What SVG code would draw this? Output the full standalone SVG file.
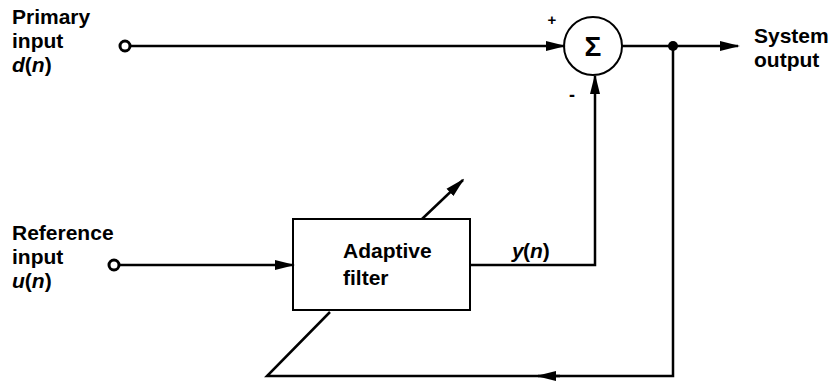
<svg xmlns="http://www.w3.org/2000/svg" width="837" height="382" viewBox="0 0 837 382">
<style>
text{font-family:"Liberation Sans",Arial,sans-serif;font-size:21px;font-weight:bold;fill:#000}
.it{font-style:italic}
.ln{fill:none;stroke:#000;stroke-width:2.5}
.term{fill:#fff;stroke:#000;stroke-width:3}
</style>
<defs>
<marker id="ah" markerWidth="20" markerHeight="12" refX="18" refY="6" orient="auto" markerUnits="userSpaceOnUse">
<path d="M0,1 L20,6 L0,11 z" fill="#000"/>
</marker>
</defs>
<rect width="837" height="382" fill="#fff"/>
<g id="primary-input">
<text x="12" y="24">Primary</text>
<text x="12" y="48">input</text>
<text x="12" y="72"><tspan class="it">d</tspan>(<tspan class="it">n</tspan>)</text>
<circle class="term" cx="125" cy="46" r="5"/>
</g>
<g id="reference-input">
<text x="12" y="240">Reference</text>
<text x="12" y="264">input</text>
<text x="12" y="288"><tspan class="it">u</tspan>(<tspan class="it">n</tspan>)</text>
<circle class="term" cx="114" cy="265" r="5"/>
</g>
<g id="summer">
<circle cx="593" cy="46" r="29" fill="#fff" stroke="#000" stroke-width="2"/>
<text x="593" y="56" text-anchor="middle" style="font-size:28px">Σ</text>
<text x="552" y="25" text-anchor="middle" style="font-size:15px">+</text>
<text x="572" y="101" text-anchor="middle" style="font-size:18px">-</text>
</g>
<g id="adaptive-filter">
<rect x="293" y="219" width="177" height="91" fill="#fff" stroke="#000" stroke-width="2"/>
<text x="343" y="258">Adaptive</text>
<text x="343" y="285">filter</text>
</g>
<g id="system-output">
<text x="754" y="43">System</text>
<text x="754" y="67">output</text>
</g>
<g id="connectors">
<line class="ln" x1="130" y1="46" x2="564" y2="46" marker-end="url(#ah)"/>
<line class="ln" x1="119" y1="265" x2="293" y2="265" marker-end="url(#ah)"/>
<line class="ln" x1="622" y1="46" x2="738" y2="46" marker-end="url(#ah)"/>
<polyline class="ln" points="470,265 595,265 595,76" marker-end="url(#ah)"/>
<polyline class="ln" points="673,46 673,376 267,376 330,312"/>
<line class="ln" x1="422" y1="219" x2="463" y2="180" marker-end="url(#ah)"/>
<line class="ln" x1="560" y1="376" x2="538" y2="376" marker-end="url(#ah)"/>
<circle cx="673" cy="46" r="5" fill="#000"/>
<text class="it" x="512" y="258">y</text>
<text x="523" y="258">(<tspan class="it">n</tspan>)</text>
</g>
</svg>
